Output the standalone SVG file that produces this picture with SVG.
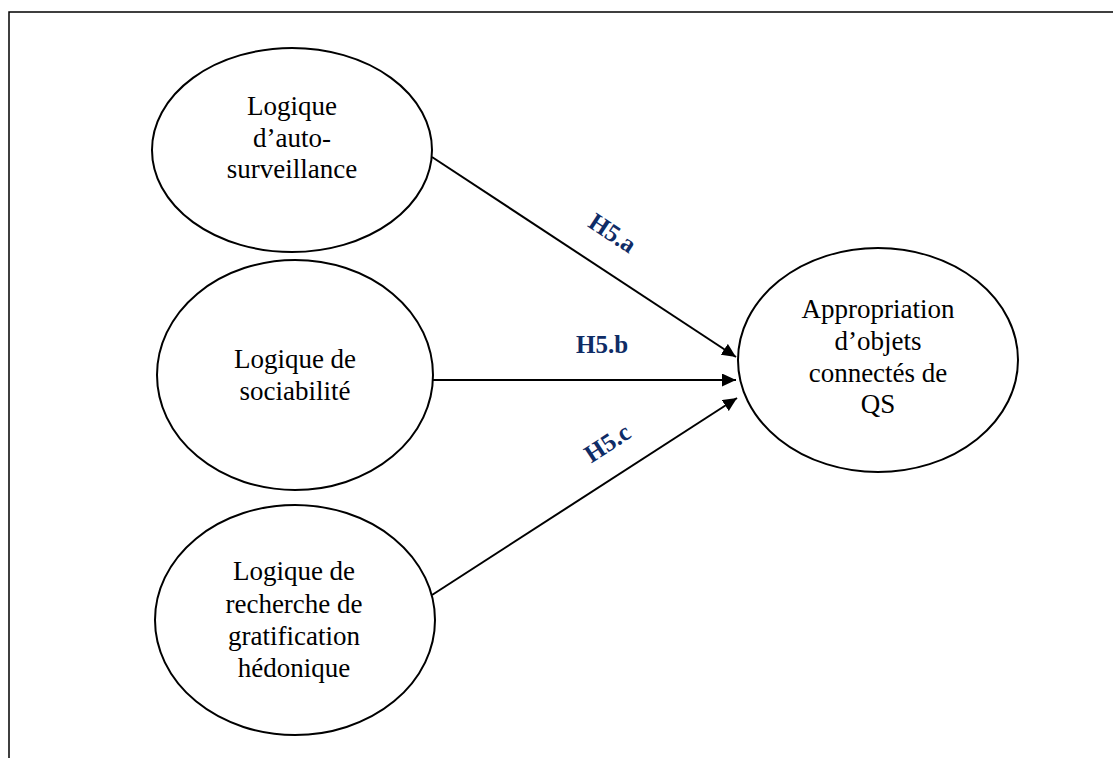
<svg xmlns="http://www.w3.org/2000/svg" width="1113" height="758" viewBox="0 0 1113 758">
<style>
.node ellipse{fill:#fff;stroke:#000;stroke-width:2}
.node text{font-family:"Liberation Serif","Times New Roman",serif;font-size:27px;fill:#000;text-anchor:middle}
.conn line{stroke:#000;stroke-width:2;fill:none}
.lbl{font-family:"Liberation Serif","Times New Roman",serif;font-size:25px;font-weight:bold;fill:#0f2c66;text-anchor:middle}
.frame{stroke:#000;stroke-width:1.5;fill:none}
</style>
<defs>
<marker id="arr" viewBox="0 0 14 13" refX="14" refY="6.5" markerWidth="14" markerHeight="13" markerUnits="userSpaceOnUse" orient="auto">
<path d="M0,0 L14,6.5 L0,13 Z" fill="#000"/>
</marker>
</defs>
<rect width="1113" height="758" fill="#fff"/>
<path class="frame" d="M9,758 L9,12 L1113,12"/>
<g id="n1" class="node">
<ellipse cx="292" cy="150" rx="140" ry="102"/>
<text x="292" y="115">Logique</text>
<text x="292" y="147">d’auto-</text>
<text x="292" y="178">surveillance</text>
</g>
<g id="n2" class="node">
<ellipse cx="295" cy="375" rx="138" ry="115"/>
<text x="295" y="368">Logique de</text>
<text x="295" y="400">sociabilité</text>
</g>
<g id="n3" class="node">
<ellipse cx="295" cy="620" rx="140" ry="115"/>
<text x="294" y="580">Logique de</text>
<text x="294" y="613">recherche de</text>
<text x="294" y="645">gratification</text>
<text x="294" y="677">hédonique</text>
</g>
<g id="n4" class="node">
<ellipse cx="878" cy="360" rx="140" ry="112"/>
<text x="878" y="318">Appropriation</text>
<text x="878" y="350">d’objets</text>
<text x="878" y="382">connectés de</text>
<text x="878" y="413">QS</text>
</g>
<g id="connectors" class="conn">
<line x1="432" y1="157" x2="736" y2="357" marker-end="url(#arr)"/>
<line x1="433" y1="380" x2="736" y2="380" marker-end="url(#arr)"/>
<line x1="432" y1="595" x2="737" y2="398" marker-end="url(#arr)"/>
</g>
<g id="labels">
<text class="lbl" transform="translate(608,240) rotate(33.4)">H5.a</text>
<text class="lbl" x="602" y="353">H5.b</text>
<text class="lbl" transform="translate(612,450) rotate(-33)">H5.c</text>
</g>
</svg>
